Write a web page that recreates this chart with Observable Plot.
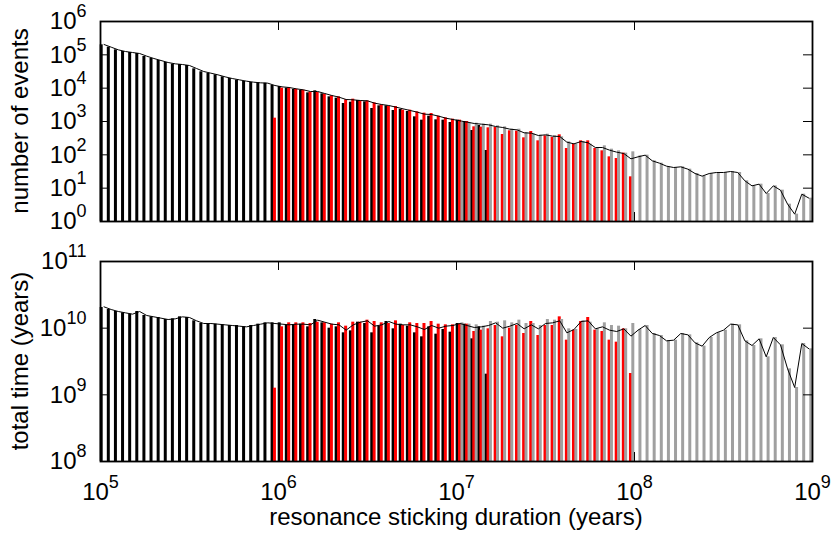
<!DOCTYPE html>
<html><head><meta charset="utf-8">
<script src="https://cdn.jsdelivr.net/npm/d3@7"></script>
<script src="https://cdn.jsdelivr.net/npm/@observablehq/plot@0.6"></script>
<style>
body{margin:0;background:#fff;}
#chart{width:832px;height:533px;font-family:"Liberation Sans",Arial,sans-serif;}
#chart svg{display:block;}
</style></head><body><div id="chart"></div>
<script>
// ---- binning: 25 log bins per decade, from 1e5 to 1e9 ----
const xMinExp = 5;
const binsPerDecade = 25;
const xTickExps = [5, 6, 7, 8, 9];
const eventTickExps = [0, 1, 2, 3, 4, 5, 6];
const timeTickExps = [8, 9, 10, 11];

// ---- series (log10 of value), first bin index given ----
const blackFirstBin = 0, redFirstBin = 24, grayFirstBin = 50;

const blackEvents = [5.30,5.23,5.15,5.10,5.07,5.04,4.95,4.89,4.83,4.77,4.72,4.71,4.68,4.58,4.49,4.44,4.40,4.34,4.29,4.24,4.20,4.17,4.16,4.15,4.08,
  4.05,4.00,3.96,3.93,3.86,3.92,3.83,3.74,3.70,3.54,3.58,3.63,3.59,3.39,3.47,3.47,3.33,3.36,3.30,3.14,3.04,3.16,3.05,3.04,2.97,3.04,3.00,2.73,2.88,2.13];
const redEvents = [3.10,4.00,4.02,3.97,3.94,3.88,3.87,3.82,3.77,3.74,3.65,3.67,3.62,3.62,3.56,3.50,3.45,3.45,3.34,3.34,3.29,3.25,3.24,3.16,3.11,3.07,
  3.04,3.00,2.84,2.83,2.81,2.82,2.61,2.72,2.71,2.51,2.70,2.42,2.57,2.52,2.60,2.19,2.32,2.42,2.42,2.19,2.12,1.94,1.89,2.05,1.34];
const grayEvents = [2.97,2.96,2.95,2.92,2.92,2.87,2.84,2.77,2.77,2.67,2.63,2.59,2.62,2.57,2.54,2.39,2.32,2.40,2.32,2.20,2.27,2.17,2.12,2.05,2.09,
  1.97,1.99,1.82,1.75,1.64,1.62,1.64,1.57,1.44,1.36,1.44,1.47,1.47,1.50,1.47,1.22,1.07,1.12,0.84,1.07,0.94,0.52,0.22,0.82,0.70];
const lineEvents = [5.31,5.23,5.15,5.10,5.07,5.04,4.96,4.89,4.83,4.77,4.73,4.71,4.68,4.59,4.50,4.45,4.40,4.34,4.29,4.25,4.21,4.18,4.16,4.15,4.08,
  4.04,4.02,3.98,3.95,3.90,3.90,3.84,3.78,3.73,3.66,3.65,3.63,3.62,3.55,3.51,3.48,3.43,3.38,3.33,3.28,3.22,3.21,3.16,3.10,3.06,
  3.02,2.98,2.94,2.92,2.90,2.85,2.82,2.77,2.75,2.66,2.65,2.58,2.60,2.56,2.55,2.38,2.33,2.40,2.36,2.22,2.22,2.14,2.08,2.04,1.88,
  1.94,1.99,1.82,1.75,1.66,1.62,1.64,1.57,1.44,1.36,1.44,1.47,1.47,1.50,1.47,1.22,1.07,1.12,0.84,1.07,0.94,0.52,0.22,0.82,0.70];

const blackTime = [10.31,10.28,10.25,10.23,10.21,10.25,10.19,10.17,10.16,10.13,10.14,10.17,10.16,10.11,10.07,10.07,10.06,10.05,10.04,10.04,10.02,10.04,10.06,10.08,10.08,
  10.08,10.04,10.05,10.06,10.02,10.13,10.08,10.00,10.02,9.93,9.96,10.09,10.07,9.93,10.03,10.10,9.99,10.06,10.03,9.93,9.87,10.02,9.91,9.98,9.94,10.07,10.06,9.84,10.02,9.31];
const redTime = [9.10,10.02,10.08,10.08,10.08,10.07,10.09,10.08,10.06,10.08,10.03,10.09,10.09,10.12,10.10,10.08,10.07,10.11,10.04,10.08,10.07,10.07,10.10,10.06,10.05,10.05,
  10.06,10.06,9.95,9.97,9.99,10.04,9.87,10.00,10.04,9.92,10.10,9.89,10.04,10.04,10.17,9.82,9.97,10.10,10.16,9.97,9.95,9.82,9.79,9.99,9.32];
const grayTime = [10.08,10.06,10.05,10.03,10.10,10.09,10.11,10.08,10.12,10.07,10.07,10.04,10.13,10.12,10.13,9.99,9.98,10.11,10.09,9.99,10.08,10.04,10.03,9.99,10.07,
  9.98,10.04,9.92,9.89,9.81,9.82,9.92,9.90,9.78,9.73,9.86,9.93,9.97,10.06,10.05,9.81,9.74,9.84,9.57,9.86,9.75,9.39,9.11,9.77,9.69];
const lineTime = [10.32,10.28,10.25,10.23,10.21,10.25,10.19,10.17,10.15,10.13,10.14,10.17,10.16,10.11,10.07,10.07,10.06,10.05,10.04,10.03,10.02,10.04,10.06,10.08,10.07,
  10.06,10.05,10.06,10.06,10.05,10.12,10.09,10.06,10.05,9.97,10.05,10.09,10.11,10.03,10.05,10.10,10.06,10.05,10.05,10.02,9.98,10.04,10.00,10.03,10.04,
  10.07,10.04,10.01,10.02,10.04,10.08,10.00,10.03,10.07,9.99,10.05,9.99,10.07,10.08,10.11,9.93,9.98,10.10,10.11,9.99,10.02,9.97,9.95,9.99,9.88,
  9.97,10.04,9.92,9.89,9.81,9.82,9.92,9.90,9.78,9.73,9.86,9.93,9.97,10.06,10.05,9.81,9.74,9.84,9.57,9.86,9.75,9.39,9.11,9.77,9.69];

const colors = {black: "#000000", red: "#ff0000", gray: "#a0a0a0"};

// each bin is split in three slots: black | red | gray; bars slightly wider than a slot
function bars(values, firstBin, slot) {
  const half = 0.21 / binsPerDecade;
  return values.map((v, i) => {
    const c = xMinExp + (firstBin + i + (slot + 0.5) / 3) / binsPerDecade;
    return {x1: 10 ** (c - half), x2: 10 ** (c + half), y: 10 ** v};
  });
}
function linePts(values) {
  return values.map((v, k) => ({x: 10 ** (xMinExp + (k + 0.5) / binsPerDecade), y: 10 ** v}));
}
const fmt = d => "10^" + Math.round(Math.log10(d));
const xTicks = xTickExps.map(e => 10 ** e);

function panel({height, marginBottom, yTickExps, series, line, showX}) {
  const yTicks = yTickExps.map(e => 10 ** e);
  const yMin = yTicks[0];
  const plotH = height - 21 - marginBottom;
  const plotW = 832 - 100 - 20;
  const marks = [];
  series.forEach(([vals, first, slot, color]) => {
    marks.push(Plot.rect(bars(vals, first, slot), {x1: "x1", x2: "x2", y1: yMin, y2: "y", fill: color}));
  });
  marks.push(Plot.line(linePts(line), {x: "x", y: "y", stroke: "#000", strokeWidth: 1}));
  marks.push(Plot.tickX(xTicks, {x: d => d, insetTop: plotH - 9, stroke: "#000", strokeWidth: 1}));
  marks.push(Plot.tickX(xTicks, {x: d => d, insetBottom: plotH - 9, stroke: "#000", strokeWidth: 1}));
  marks.push(Plot.tickY(yTicks, {y: d => d, insetRight: plotW - 9, stroke: "#000", strokeWidth: 1}));
  marks.push(Plot.tickY(yTicks, {y: d => d, insetLeft: plotW - 9, stroke: "#000", strokeWidth: 1}));
  marks.push(Plot.frame({stroke: "#000", strokeWidth: 1.8}));
  return Plot.plot({
    width: 832, height, marginLeft: 100, marginRight: 20, marginTop: 21, marginBottom,
    style: {fontFamily: "Liberation Sans, Arial, sans-serif", fontSize: "24px", color: "#000", background: "#fff", overflow: "visible"},
    x: showX
      ? {type: "log", domain: [1e5, 1e9], ticks: xTicks, tickFormat: fmt, tickSize: 0, tickPadding: 21, label: null}
      : {type: "log", domain: [1e5, 1e9], axis: null},
    y: {type: "log", domain: [yMin, yTicks[yTicks.length - 1]], ticks: yTicks, tickFormat: fmt, tickSize: 0, tickPadding: 14, label: null},
    marks
  });
}

function superscriptify(svg) {
  const walker = document.createTreeWalker(svg, NodeFilter.SHOW_TEXT);
  const nodes = [];
  while (walker.nextNode()) nodes.push(walker.currentNode);
  for (const n of nodes) {
    const m = /^10\^(\d+)$/.exec(n.data.trim());
    if (!m) continue;
    n.data = "10";
    const t = document.createElementNS("http://www.w3.org/2000/svg", "tspan");
    t.setAttribute("dy", "-12");
    t.setAttribute("font-size", "18px");
    t.textContent = m[1];
    n.parentNode.insertBefore(t, n.nextSibling);
  }
}

const topSvg = panel({height: 240, marginBottom: 19, yTickExps: eventTickExps,
  series: [[blackEvents, blackFirstBin, 0, colors.black], [redEvents, redFirstBin, 1, colors.red], [grayEvents, grayFirstBin, 2, colors.gray]],
  line: lineEvents, showX: false});
const botSvg = panel({height: 293, marginBottom: 72, yTickExps: timeTickExps,
  series: [[blackTime, blackFirstBin, 0, colors.black], [redTime, redFirstBin, 1, colors.red], [grayTime, grayFirstBin, 2, colors.gray]],
  line: lineTime, showX: true});

const chart = document.getElementById("chart");
chart.appendChild(topSvg);
chart.appendChild(botSvg);
superscriptify(topSvg);
superscriptify(botSvg);

d3.select(topSvg).append("text").attr("transform", "translate(28,121) rotate(-90)")
  .attr("text-anchor", "middle").attr("font-size", 24).attr("fill", "#000").text("number of events");
d3.select(botSvg).append("text").attr("transform", "translate(28,121) rotate(-90)")
  .attr("text-anchor", "middle").attr("font-size", 24).attr("fill", "#000").text("total time (years)");
d3.select(botSvg).append("text").attr("x", 456).attr("y", 285)
  .attr("text-anchor", "middle").attr("font-size", 24).attr("fill", "#000").text("resonance sticking duration (years)");
</script></body></html>
